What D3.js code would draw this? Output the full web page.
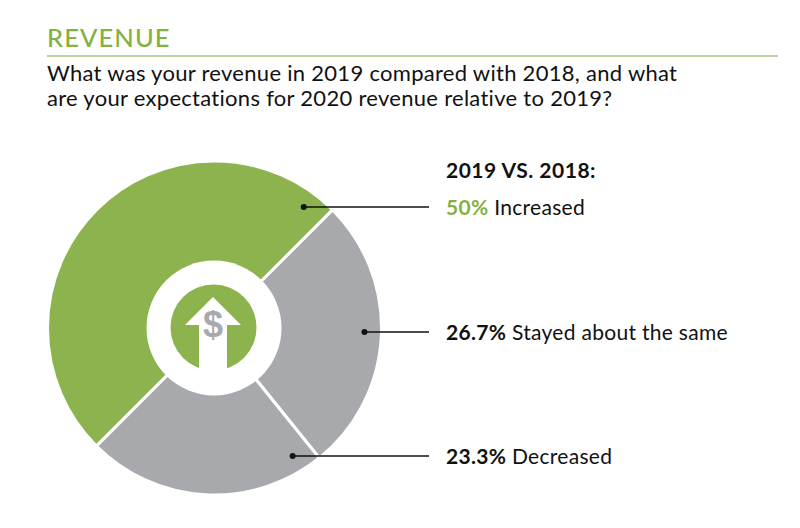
<!DOCTYPE html>
<html><head><meta charset="utf-8">
<script src="https://cdn.jsdelivr.net/npm/d3@7/dist/d3.min.js"></script>
<style>html,body{margin:0;background:#fff}svg{display:block}text{font-family:Lato,"Open Sans",sans-serif}</style>
</head><body><svg id="c" width="800" height="528"></svg>
<script>
const categories=["Increased","Stayed about the same","Decreased"];
const values=[50,26.7,23.3];
const labels=["50%","26.7%","23.3%"];
const sliceColors=["#8cb34e","#a7a9ac","#a7a9ac"];
const labelColors=["#84b13f","#111","#111"];
const leaderAngles=[36.5,91.5,148.6];
const labelYs=[207,332,456];
const questionLines=["What was your revenue in 2019 compared with 2018, and what","are your expectations for 2020 revenue relative to 2019?"];

const svg=d3.select("#c");
const cx=214.5,cy=328,R=167;
svg.append("text").attr("x",47).attr("y",47).attr("fill","#84b13f").attr("font-size",25.5).attr("font-weight",500).attr("letter-spacing",1.1).text("REVENUE");
svg.append("line").attr("x1",47).attr("x2",778).attr("y1",56).attr("y2",56).attr("stroke","#a6c57a").attr("stroke-width",1.5);
svg.selectAll("text.q").data(questionLines).join("text").attr("class","q").attr("x",47).attr("y",(d,i)=>81+i*25).attr("font-size",22).attr("letter-spacing",0.29).attr("fill","#111").text(d=>d);

const pie=d3.pie().sort(null).startAngle(Math.PI*1.25).endAngle(Math.PI*3.25);
const arc=d3.arc().innerRadius(0).outerRadius(R);
const g=svg.append("g").attr("transform",`translate(${cx},${cy})`);
g.selectAll("path").data(pie(values)).join("path").attr("d",arc).attr("fill",(d,i)=>sliceColors[i]).attr("stroke","#fff").attr("stroke-width",3);
g.append("circle").attr("cx",-0.5).attr("r",67.5).attr("fill","#fff");
g.append("circle").attr("cx",-1).attr("cy",-0.5).attr("r",43).attr("fill","#8cb34e");
g.append("path").attr("d","M-1.5,-31L26.5,-3L12.5,-3L12.5,43L-15.5,43L-15.5,-3L-29.5,-3Z").attr("fill","#fff");
g.append("text").attr("x",-1.5).attr("y",9).attr("text-anchor","middle").attr("font-size",36).attr("font-weight",700).attr("fill","#a7a9ac").style("font-family","'Liberation Sans',sans-serif").text("$");

const lead=svg.append("g");
const ang=d3.scaleLinear().domain([0,360]).range([0,2*Math.PI]);
const px=a=>cx+150*Math.sin(ang(a));
lead.selectAll("line").data(leaderAngles).join("line").attr("x1",d=>px(d)).attr("x2",429).attr("y1",(d,i)=>labelYs[i]).attr("y2",(d,i)=>labelYs[i]).attr("stroke","#111").attr("stroke-width",1.3);
lead.selectAll("circle").data(leaderAngles).join("circle").attr("cx",d=>px(d)).attr("cy",(d,i)=>labelYs[i]).attr("r",3).attr("fill","#111");

svg.append("text").attr("x",446).attr("y",178).attr("font-size",21).attr("font-weight",700).attr("letter-spacing",0.5).attr("fill","#111").text("2019 VS. 2018:");
const t=svg.selectAll("text.l").data(categories).join("text").attr("class","l").attr("x",446).attr("y",(d,i)=>labelYs[i]+8).attr("font-size",21).attr("letter-spacing",0.3).attr("fill","#111");
t.append("tspan").attr("font-weight",700).attr("fill",(d,i)=>labelColors[i]).text((d,i)=>labels[i]);
t.append("tspan").text(d=>" "+d);
</script></body></html>
